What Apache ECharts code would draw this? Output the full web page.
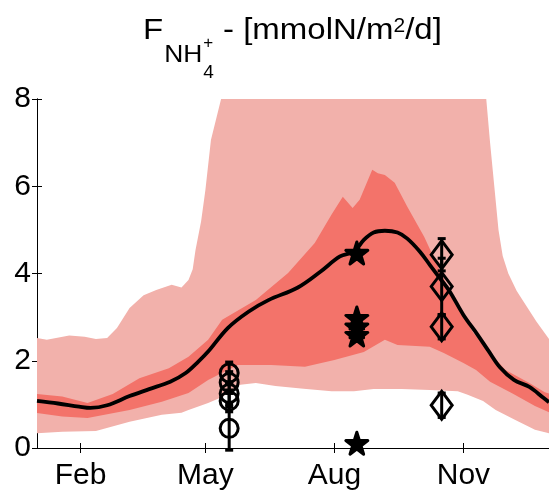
<!DOCTYPE html>
<html>
<head>
<meta charset="utf-8">
<script src="https://cdn.jsdelivr.net/npm/echarts@6/dist/echarts.min.js"></script>
<style>
  html, body { margin: 0; padding: 0; background: #fff; }
  #chart { width: 549px; height: 498px; }
</style>
</head>
<body>
<div id="chart"></div>
<script>
// Day of year (0 = 1 Jan) for the month ticks, and their labels
const tickDays = [31, 120, 212, 304];
const tickLabels = ['Feb', 'May', 'Aug', 'Nov'];

// Model median flux [day, mmolN/m2/d]
const medianLine = [
  [0, 1.08], [15, 1.02], [30, 0.95], [38, 0.92], [50, 0.98], [66, 1.19],
  [80, 1.35], [95, 1.52], [106, 1.72], [115, 1.98], [122, 2.21], [136, 2.75],
  [151, 3.13], [165, 3.39], [186, 3.68], [202, 4.04], [216, 4.39], [226, 4.5],
  [233, 4.77], [240, 4.94], [248, 4.98], [257, 4.94], [264, 4.8], [273, 4.5],
  [280, 4.2], [287, 3.9], [294, 3.6], [304, 3.05], [314, 2.6], [322, 2.22],
  [330, 1.85], [340, 1.56], [351, 1.4], [361, 1.15], [365, 1.05]
];

// Outer (wide) uncertainty envelope
const outerUpper = [
  [0, 2.52], [7, 2.48], [23, 2.58], [34, 2.55], [42, 2.5], [50, 2.52],
  [57, 2.75], [66, 3.21], [76, 3.5], [85, 3.62], [96, 3.74], [103, 3.68],
  [108, 3.85], [111, 4.1], [113, 4.54], [117, 5.2], [120, 5.9], [124, 7.06], [132, 8.1], [134, 12],
  [318, 12], [320, 8.1], [323, 7.0], [326, 6.0], [329, 5.0], [332, 4.4],
  [336, 4.0], [342, 3.6], [349, 3.25], [356, 2.9], [365, 2.5]
];
const outerLower = [
  [0, 0.34], [18, 0.37], [42, 0.39], [66, 0.6], [89, 0.76], [103, 0.81],
  [108, 0.87], [122, 1.03], [132, 1.17], [145, 1.45], [156, 1.49], [170, 1.42],
  [190, 1.36], [210, 1.3], [226, 1.3], [240, 1.35], [260, 1.35], [280, 1.33],
  [300, 1.3], [307, 1.22], [318, 1.08], [327, 0.87], [341, 0.64], [355, 0.42],
  [365, 0.34]
];

// Inner (narrow) uncertainty envelope
const innerUpper = [
  [0, 1.24], [18, 1.18], [36, 1.03], [54, 1.24], [73, 1.6], [94, 1.83],
  [108, 2.09], [122, 2.48], [132, 2.94], [156, 3.39], [179, 4.01], [198, 4.7],
  [210, 5.35], [218, 5.76], [225, 5.5], [230, 5.69], [239, 6.38], [243, 6.3],
  [248, 6.26], [255, 6.08], [264, 5.53], [276, 4.84], [287, 4.08], [299, 3.28],
  [311, 2.64], [323, 2.18], [334, 1.79], [351, 1.49], [362, 1.28], [365, 1.25]
];
const innerLower = [
  [0, 0.8], [18, 0.72], [36, 0.69], [66, 0.87], [89, 1.06], [108, 1.26],
  [122, 1.56], [143, 1.9], [167, 1.9], [191, 1.86], [212, 2.02], [233, 2.2],
  [248, 2.48], [257, 2.36], [280, 2.32], [290, 2.18], [304, 1.95], [313, 1.79],
  [323, 1.52], [339, 1.25], [355, 0.96], [365, 0.82]
];

// Observations: [day, value]
const obsCircles = [[137, 1.72], [137, 1.5], [137, 1.25], [137, 1.08], [137, 0.45]];
const obsStars = [[228, 4.47], [228, 2.98], [228, 2.78], [228, 2.59], [228, 0.11]];
const obsDiamonds = [[288.5, 4.43], [288.5, 3.7], [288.5, 2.78], [288.5, 0.98]];

// Observation error bars: [day, low, high]
const circleErrors = [[137, 1.47, 1.97], [137, 1.25, 1.75], [137, 1.0, 1.5], [137, 0.83, 1.33], [137, -0.05, 0.95]];
const diamondErrors = [[288.5, 4.06, 4.8], [288.5, 3.05, 4.35], [288.5, 2.5, 3.06], [288.5, 0.7, 1.26]];

const FONT = '"Liberation Sans", Arial, Helvetica, sans-serif';
const LIGHT = '#f2b1ab';
const DARK = '#f3736a';

const chart = echarts.init(document.getElementById('chart'), null, { renderer: 'canvas' });

function bandSeries(upper, lower, color) {
  return {
    type: 'custom',
    silent: true,
    data: [[upper[0][0], upper[0][1]]],
    encode: { x: 0, y: 1 },
    renderItem: function (params, api) {
      const cs = params.coordSys;
      const pts = upper.map(p => api.coord(p)).concat(lower.slice().reverse().map(p => api.coord(p)));
      return {
        type: 'group',
        clipPath: { type: 'rect', shape: { x: cs.x, y: cs.y, width: cs.width, height: cs.height } },
        children: [{ type: 'polygon', shape: { points: pts }, style: { fill: color } }]
      };
    },
    z: 1
  };
}

function errorSeries(rows) {
  return {
    type: 'custom',
    silent: true,
    data: rows,
    encode: { x: 0, y: [1, 2] },
    renderItem: function (params, api) {
      const lo = api.coord([api.value(0), api.value(1)]);
      const hi = api.coord([api.value(0), api.value(2)]);
      const cap = 4;
      const st = { stroke: '#000', lineWidth: 3 };
      return {
        type: 'group',
        children: [
          { type: 'line', shape: { x1: lo[0], y1: lo[1], x2: hi[0], y2: hi[1] }, style: st },
          { type: 'line', shape: { x1: hi[0] - cap, y1: hi[1], x2: hi[0] + cap, y2: hi[1] }, style: st },
          { type: 'line', shape: { x1: lo[0] - cap, y1: lo[1], x2: lo[0] + cap, y2: lo[1] }, style: st }
        ]
      };
    },
    z: 5
  };
}

const starPath = 'path://M50,0 L61.8,35.3 L98.9,35.3 L69,57.4 L80.3,92.7 L50,71 L19.7,92.7 L31,57.4 L1.1,35.3 L38.2,35.3 Z';

// Title with sub/superscripts, laid out from measured text widths
const measureCtx = document.createElement('canvas').getContext('2d');
function textWidth(t, size) {
  measureCtx.font = size + 'px ' + FONT;
  return measureCtx.measureText(t).width;
}
function txt(t, x, baseline, size, sx) {
  return {
    type: 'text', x: x, y: baseline - 0.33 * size, scaleX: sx || 1,
    style: { text: t, font: size + 'px ' + FONT, fill: '#000', align: 'left', verticalAlign: 'middle' },
    silent: true
  };
}
const titleParts = [];
(function () {
  const base = 41;
  const sx = 1.1;
  let x = 143;
  titleParts.push(txt('F', x, base, 30, sx)); x += textWidth('F', 30) * sx + 1;
  titleParts.push(txt('NH', x, 63, 24, sx)); x += textWidth('NH', 24) * sx + 1;
  titleParts.push(txt('+', x, 49, 17));
  titleParts.push(txt('4', x, 79, 19));
  x += Math.max(textWidth('+', 17), textWidth('4', 19));
  titleParts.push(txt(' - [mmolN/m', x, base, 30, sx)); x += textWidth(' - [mmolN/m', 30) * sx;
  titleParts.push(txt('2', x, 33, 21)); x += textWidth('2', 21);
  titleParts.push(txt('/d]', x, base, 30, sx));
})();

const axisLineStyle = { color: '#000', width: 1 };

const option = {
  backgroundColor: '#fff',
  animation: false,
  grid: { left: 37, top: 99, width: 515, height: 349, containLabel: false },
  xAxis: [
    {
      type: 'value', min: 0, max: 365, position: 'bottom',
      axisLine: { show: true, lineStyle: axisLineStyle },
      axisTick: { show: true, inside: true, length: 5, customValues: tickDays, lineStyle: axisLineStyle },
      axisLabel: {
        customValues: tickDays, margin: 13, color: '#000', fontSize: 30, fontFamily: FONT,
        formatter: v => tickLabels[tickDays.indexOf(v)] || ''
      },
      splitLine: { show: false }
    },
    {
      type: 'value', min: 0, max: 365, position: 'top',
      axisLine: { show: true, lineStyle: axisLineStyle },
      axisTick: { show: true, inside: true, length: 5, customValues: tickDays, lineStyle: axisLineStyle },
      axisLabel: { show: false },
      splitLine: { show: false }
    }
  ],
  yAxis: [
    {
      type: 'value', min: 0, max: 8, interval: 2, position: 'left',
      axisLine: { show: true, lineStyle: axisLineStyle },
      axisTick: { show: true, inside: true, length: 5, lineStyle: axisLineStyle },
      axisLabel: { margin: 6, color: '#000', fontSize: 30, fontFamily: FONT },
      splitLine: { show: false }
    },
    {
      type: 'value', min: 0, max: 8, interval: 2, position: 'right',
      axisLine: { show: true, lineStyle: axisLineStyle },
      axisTick: { show: true, inside: true, length: 5, lineStyle: axisLineStyle },
      axisLabel: { show: false },
      splitLine: { show: false }
    }
  ],
  graphic: titleParts,
  series: [
    bandSeries(outerUpper, outerLower, LIGHT),
    bandSeries(innerUpper, innerLower, DARK),
    {
      type: 'line', data: medianLine, smooth: 0.35, symbol: 'none', silent: true,
      lineStyle: { color: '#000', width: 3.8 }, z: 3
    },
    errorSeries(circleErrors),
    errorSeries(diamondErrors),
    {
      type: 'scatter', data: obsCircles, symbol: 'circle', symbolSize: 18, silent: true,
      itemStyle: { color: 'rgba(0,0,0,0)', borderColor: '#000', borderWidth: 3, opacity: 1 }, z: 6
    },
    {
      type: 'scatter', data: obsStars, symbol: starPath, symbolSize: 22, silent: true,
      itemStyle: { color: '#000', borderColor: '#000', borderWidth: 3, borderJoin: 'round', opacity: 1 }, z: 6
    },
    {
      type: 'scatter', data: obsDiamonds, symbol: 'diamond', symbolSize: [21, 28], silent: true,
      itemStyle: { color: 'rgba(0,0,0,0)', borderColor: '#000', borderWidth: 3, opacity: 1 }, z: 6
    }
  ]
};

chart.setOption(option);
</script>
</body>
</html>
